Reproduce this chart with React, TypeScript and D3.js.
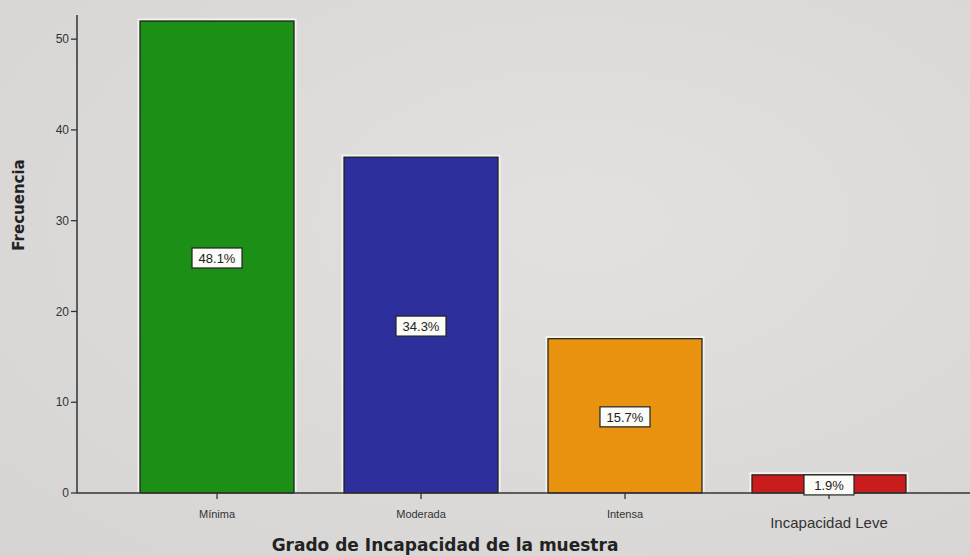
import React from "react";
import * as d3 from "d3";

const categories = ["Mínima", "Moderada", "Intensa", "Incapacidad Leve"];
const counts = [52, 37, 17, 2];
const percentLabels = ["48.1%", "34.3%", "15.7%", "1.9%"];
const barColors = ["#1c8f17", "#2c2f9c", "#e8920f", "#c91c1c"];
const yTicks = [0, 10, 20, 30, 40, 50];

const width = 970;
const height = 556;

const App = () => {
  const x = d3
    .scaleBand()
    .domain(categories)
    .range([140, 906])
    .paddingInner(0.245)
    .paddingOuter(0);

  const y = d3.scaleLinear().domain([0, 52]).range([493, 21]);
  const axisX = 77;

  return (
    <svg
      width={width}
      height={height}
      style={{ position: "absolute", left: 0, top: 0, background: "#dcdbda" }}
      fontFamily="'Liberation Sans', Arial, sans-serif"
    >
      <defs>
        <radialGradient id="bg" cx="60%" cy="40%" r="80%">
          <stop offset="0%" stopColor="#e2e1df" />
          <stop offset="100%" stopColor="#d6d5d4" />
        </radialGradient>
      </defs>
      <rect width={width} height={height} fill="url(#bg)" />

      {/* bars */}
      {categories.map((c, i) => (
        <g key={c}>
          <rect
            x={x(c)! - 1.5}
            y={y(counts[i]) - 1.5}
            width={x.bandwidth() + 3}
            height={y(0) - y(counts[i]) + 1.5}
            fill="none"
            stroke="#f4f4ee"
            strokeWidth={2}
          />
          <rect
            x={x(c)}
            y={y(counts[i])}
            width={x.bandwidth()}
            height={y(0) - y(counts[i])}
            fill={barColors[i]}
            stroke="#1d1d1d"
            strokeWidth={1.2}
          />
        </g>
      ))}

      {/* axes */}
      <line x1={axisX} x2={axisX} y1={15} y2={y(0)} stroke="#333" strokeWidth={1.5} />
      <line x1={axisX} x2={width} y1={y(0)} y2={y(0)} stroke="#333" strokeWidth={1.5} />
      {yTicks.map((t) => (
        <g key={t}>
          <line x1={axisX - 6} x2={axisX} y1={y(t)} y2={y(t)} stroke="#333" strokeWidth={1.3} />
          <text x={axisX - 8} y={y(t)} dy="0.35em" textAnchor="end" fontSize={12} fill="#333">
            {t}
          </text>
        </g>
      ))}
      {categories.map((c, i) => {
        const cx = x(c)! + x.bandwidth() / 2;
        const last = i === categories.length - 1;
        return (
          <g key={c}>
            <line x1={cx} x2={cx} y1={y(0)} y2={y(0) + 6} stroke="#333" strokeWidth={1.3} />
            <text
              x={cx}
              y={last ? 528 : 518}
              textAnchor="middle"
              fontSize={last ? 15 : 11}
              fill="#333"
            >
              {c}
            </text>
          </g>
        );
      })}

      {/* percentage labels */}
      {categories.map((c, i) => {
        const cx = x(c)! + x.bandwidth() / 2;
        const cy = (y(counts[i]) + y(0)) / 2 + 1;
        return (
          <g key={c}>
            <rect
              x={cx - 25}
              y={cy - 10}
              width={50}
              height={20}
              fill="#fbfbf8"
              stroke="#222"
              strokeWidth={1.2}
            />
            <text x={cx} y={cy} dy="0.36em" textAnchor="middle" fontSize={13} fill="#222">
              {percentLabels[i]}
            </text>
          </g>
        );
      })}

      {/* axis titles */}
      <text
        x={445}
        y={551}
        textAnchor="middle"
        fontSize={17}
        fontWeight="bold"
        fill="#222"
        fontFamily="'DejaVu Sans', Verdana, sans-serif"
      >
        Grado de Incapacidad de la muestra
      </text>
      <text
        transform="translate(24,205) rotate(-90)"
        textAnchor="middle"
        fontSize={15}
        fontWeight="bold"
        fill="#222"
        fontFamily="'DejaVu Sans', Verdana, sans-serif"
      >
        Frecuencia
      </text>
    </svg>
  );
};

export default App;
